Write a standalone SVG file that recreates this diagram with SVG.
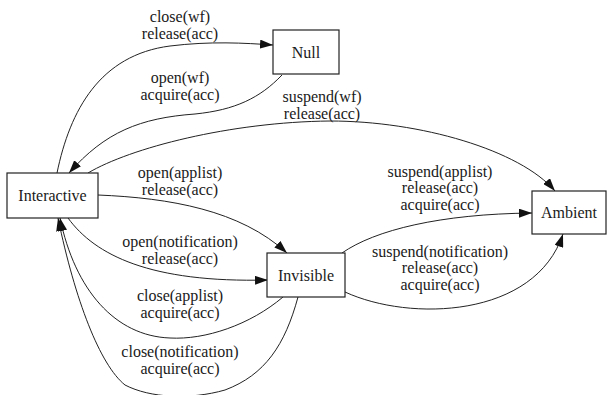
<svg xmlns="http://www.w3.org/2000/svg" width="607" height="395" viewBox="0 0 607 395">
<style>
.node rect{fill:#fff;stroke:#222;stroke-width:1.2}
text{font-family:"Liberation Serif","Times New Roman",serif;font-size:16px;fill:#1a1a1a;text-anchor:middle}
.edge path{fill:none;stroke:#222;stroke-width:1}
</style>
<defs>
<marker id="ah" viewBox="0 0 13 9" refX="13" refY="4.5" markerWidth="13" markerHeight="9" markerUnits="userSpaceOnUse" orient="auto">
<path d="M0,0 L13,4.5 L0,9 z" fill="#111"/>
</marker>
</defs>
<rect width="607" height="395" fill="#fff"/>
<g id="edges" class="edge">
<path d="M57,173 C70,110 100,55 170,46 C210,41 245,43 273,45" marker-end="url(#ah)"/>
<path d="M282,75 C260,98 235,110 195,114 C140,118 105,132 69,173" marker-end="url(#ah)"/>
<path d="M88,173 C130,148 230,122 330,121 C420,121 520,150 555,191" marker-end="url(#ah)"/>
<path d="M98,195 C170,198 240,210 287,253" marker-end="url(#ah)"/>
<path d="M68,218 C95,255 150,283 268,280" marker-end="url(#ah)"/>
<path d="M283,297 C250,325 205,340 170,338 C115,336 75,290 60,218" marker-end="url(#ah)"/>
<path d="M298,297 C285,345 265,375 225,390 C190,400 150,398 125,385 C100,365 75,300 58,218" marker-end="url(#ah)"/>
<path d="M342,253 C375,230 440,214 532,213" marker-end="url(#ah)"/>
<path d="M345,292 C410,322 535,318 563,234" marker-end="url(#ah)"/>
</g>
<g id="labels">
<text x="180" y="22">close(wf)</text>
<text x="180" y="38.5">release(acc)</text>
<text x="180" y="83">open(wf)</text>
<text x="180" y="99.5">acquire(acc)</text>
<text x="322" y="102">suspend(wf)</text>
<text x="322" y="118.5">release(acc)</text>
<text x="180" y="178">open(applist)</text>
<text x="180" y="194.5">release(acc)</text>
<text x="180" y="247">open(notification)</text>
<text x="180" y="263.5">release(acc)</text>
<text x="180" y="301">close(applist)</text>
<text x="180" y="317.5">acquire(acc)</text>
<text x="180" y="357">close(notification)</text>
<text x="180" y="373.5">acquire(acc)</text>
<text x="440" y="176.5">suspend(applist)</text>
<text x="440" y="193">release(acc)</text>
<text x="440" y="209.5">acquire(acc)</text>
<text x="440" y="256.5">suspend(notification)</text>
<text x="440" y="273">release(acc)</text>
<text x="440" y="289.5">acquire(acc)</text>
</g>
<g id="null" class="node"><rect x="273" y="30" width="66" height="44"/><text x="306" y="58">Null</text></g>
<g id="interactive" class="node"><rect x="7" y="173" width="91" height="45"/><text x="52.5" y="201">Interactive</text></g>
<g id="invisible" class="node"><rect x="267" y="253" width="78" height="44"/><text x="306" y="281">Invisible</text></g>
<g id="ambient" class="node"><rect x="532" y="191" width="74" height="43"/><text x="569" y="218">Ambient</text></g>
</svg>
